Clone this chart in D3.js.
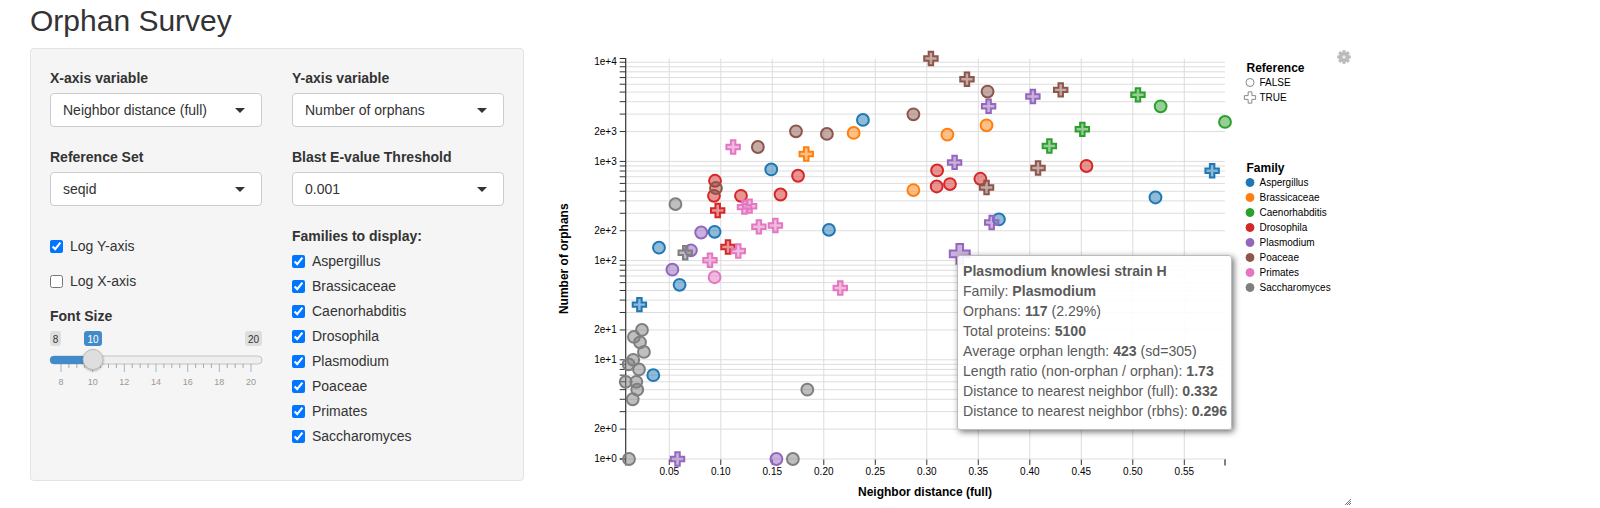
<!DOCTYPE html>
<html>
<head>
<meta charset="utf-8">
<script src="https://cdn.jsdelivr.net/npm/d3@7"></script>
<style>
html, body { margin: 0; padding: 0; background: #fff; overflow: hidden; }
body { width: 1600px; height: 508px; position: relative; font-family: "Liberation Sans", sans-serif; font-size: 14px; color: #333; }
.abs { position: absolute; white-space: nowrap; }
h2 { position: absolute; left: 30px; top: 1px; margin: 0; font-size: 30px; line-height: 40px; font-weight: 400; color: #333; }
.well { position: absolute; left: 30px; top: 48px; width: 492px; height: 431px; background: #f5f5f5; border: 1px solid #e3e3e3; border-radius: 4px; }
.lab { font-weight: 700; line-height: 16px; }
.sel { position: absolute; width: 210px; height: 32px; background: #fff; border: 1px solid #ccc; border-radius: 4px; line-height: 32px; text-indent: 12px; }
.sel:after { content: ""; position: absolute; left: 184px; top: 14px; border: 5px solid transparent; border-top-color: #333; border-bottom: 0; }
input[type=checkbox] { position: absolute; margin: 0; width: 13px; height: 13px; }
.tip { position: absolute; left: 957px; top: 254.5px; width: 263px; height: 162px; padding: 5.5px 5px 6px 5px; background: rgba(255,255,255,0.9); border: 1px solid #bbb; border-radius: 3px; box-shadow: 2px 2px 6px rgba(0,0,0,0.55); color: #5a5a5a; font-size: 14.1px; line-height: 20px; white-space: nowrap; }
svg { position: absolute; left: 0; top: 0; }
svg text { font-family: "Liberation Sans", sans-serif; }
</style>
</head>
<body>
<script>
var familyNames = ['Aspergillus', 'Brassicaceae', 'Caenorhabditis', 'Drosophila', 'Plasmodium', 'Poaceae', 'Primates', 'Saccharomyces'];
var familyColors = ['#1f77b4', '#ff7f0e', '#2ca02c', '#d62728', '#9467bd', '#8c564b', '#e377c2', '#7f7f7f'];
var referenceNames = ['FALSE', 'TRUE'];

// [distance, orphans], one array per family, split on reference
var aspergillusFalse = [[0.238, 2620], [0.149, 830], [0.205, 204], [0.094, 195], [0.040, 135], [0.060, 57], [0.0345, 7], [0.370, 260], [0.522, 433]];
var aspergillusTrue = [[0.577, 806], [0.021, 36]];
var brassicaceaeFalse = [[0.229, 1936], [0.320, 1860], [0.358, 2310], [0.287, 514]];
var brassicaceaeTrue = [[0.183, 1188]];
var caenorhabditisFalse = [[0.527, 3594], [0.5895, 2500]];
var caenorhabditisTrue = [[0.505, 4688], [0.451, 2105], [0.419, 1431]];
var drosophilaFalse = [[0.0944, 638], [0.0934, 450], [0.1196, 450], [0.158, 464], [0.175, 717], [0.310, 811], [0.3096, 559], [0.3225, 591], [0.352, 668], [0.455, 899]];
var drosophilaTrue = [[0.097, 320], [0.107, 137]];
var plasmodiumFalse = [[0.081, 192], [0.071, 127], [0.053, 81], [0.154, 1]];
var plasmodiumTrue = [[0.403, 4505], [0.360, 3594], [0.327, 977], [0.363, 242], [0.058, 1]];
var poaceaeFalse = [[0.173, 2010], [0.203, 1892], [0.136, 1397], [0.0953, 539], [0.359, 5058], [0.287, 2985]];
var poaceaeTrue = [[0.304, 10900], [0.339, 6730], [0.430, 5263], [0.408, 857], [0.358, 546]];
var primatesFalse = [[0.094, 68]];
var primatesTrue = [[0.112, 1397], [0.123, 346], [0.128, 354], [0.137, 219], [0.153, 226], [0.117, 125], [0.0895, 101], [0.216, 53]];
var saccharomycesFalse = [[0.056, 371], [0.0235, 20], [0.0157, 17], [0.0216, 15], [0.0254, 12], [0.015, 10], [0.0106, 9], [0.0206, 8], [0.0077, 6], [0.018, 6], [0.0189, 5], [0.0145, 4], [0.184, 5], [0.0109, 1], [0.170, 1]];
var saccharomycesTrue = [[0.0655, 120]];
var selectedPoint = [0.332, 117];

var falseGroups = [aspergillusFalse, brassicaceaeFalse, caenorhabditisFalse, drosophilaFalse, plasmodiumFalse, poaceaeFalse, primatesFalse, saccharomycesFalse];
var trueGroups = [aspergillusTrue, brassicaceaeTrue, caenorhabditisTrue, drosophilaTrue, plasmodiumTrue, poaceaeTrue, primatesTrue, saccharomycesTrue];

var xTicks = [0.05, 0.10, 0.15, 0.20, 0.25, 0.30, 0.35, 0.40, 0.45, 0.50, 0.55];
var yMultiples = [1, 2, 3, 4, 5, 6, 7, 8, 9];
var yDecades = [1, 10, 100, 1000];
var sliderMajor = [8, 10, 12, 14, 16, 18, 20];
var sliderMinor = [8.5, 9, 9.5, 10.5, 11, 11.5, 12.5, 13, 13.5, 14.5, 15, 15.5, 16.5, 17, 17.5, 18.5, 19, 19.5];
var tipLines = [
    ['', '<b>Plasmodium knowlesi strain H</b>'],
    ['Family: ', '<b>Plasmodium</b>'],
    ['Orphans: ', '<b>117</b> (2.29%)'],
    ['Total proteins: ', '<b>5100</b>'],
    ['Average orphan length: ', '<b>423</b> (sd=305)'],
    ['Length ratio (non-orphan / orphan): ', '<b>1.73</b>'],
    ['Distance to nearest neighbor (full): ', '<b>0.332</b>'],
    ['Distance to nearest neighbor (rbhs): ', '<b>0.296</b>']
];

var body = d3.select('body');

// sidebar
body.append('h2').text('Orphan Survey');
body.append('div').attr('class', 'well');

var addLabel = function(text, x, y) {
    body.append('div').attr('class', 'abs lab')
        .style('left', x + 'px').style('top', (y - 8) + 'px').text(text);
};
var addSelect = function(text, x, y) {
    body.append('div').attr('class', 'sel')
        .style('left', x + 'px').style('top', y + 'px').text(text);
};
var addCheck = function(text, boxX, textX, y) {
    body.append('input').attr('type', 'checkbox').property('checked', text !== 'Log X-axis')
        .style('left', boxX + 'px').style('top', (y - 6.5) + 'px');
    body.append('div').attr('class', 'abs')
        .style('left', textX + 'px').style('top', (y - 8) + 'px').style('line-height', '16px').text(text);
};

addLabel('X-axis variable', 50, 78);
addLabel('Y-axis variable', 292, 78);
addLabel('Reference Set', 50, 157);
addLabel('Blast E-value Threshold', 292, 157);
addLabel('Font Size', 50, 316);
addLabel('Families to display:', 292, 236);
addSelect('Neighbor distance (full)', 50, 93);
addSelect('Number of orphans', 292, 93);
addSelect('seqid', 50, 171.5);
addSelect('0.001', 292, 171.5);
addCheck('Log Y-axis', 50, 70, 246);
addCheck('Log X-axis', 50, 70, 281);
familyNames.forEach(function(name, i) {
    addCheck(name, 292, 312, 261 + i * 25);
});

// chart
var svg = body.append('svg').attr('width', 1600).attr('height', 508);

var plotLeft = 625.7, plotRight = 1225, plotTop = 58.5, plotBottom = 459;
var x = d3.scaleLinear().domain([0.0077, 0.5895]).range([plotLeft, plotRight]);
var y = d3.scaleLog().domain([1, 10900]).range([plotBottom, plotTop]);
var color = d3.scaleOrdinal().domain(familyNames).range(familyColors);

var yTicks = [];
yDecades.forEach(function(decade) {
    yMultiples.forEach(function(m) {
        yTicks.push(m * decade);
    });
});
yTicks.push(10000);

var yFormat = function(v) {
    var text = d3.format('.0e')(v);
    return text.charAt(0) === '1' || text.charAt(0) === '2' ? text : '';
};

var xAxis = svg.append('g')
    .attr('transform', 'translate(0,' + plotBottom + ')')
    .call(d3.axisBottom(x).tickValues(xTicks).tickFormat(d3.format('.2f')).tickSize(6).tickPadding(3).offset(0));
xAxis.select('.domain').remove();
xAxis.selectAll('text').attr('font-size', 10).attr('font-family', null).attr('fill', '#000');
x.domain().forEach(function(d) {
    svg.append('line').attr('x1', x(d)).attr('x2', x(d)).attr('y1', plotBottom).attr('y2', plotBottom + 6.5)
        .attr('stroke', '#000');
});

var yGrid = svg.append('g')
    .attr('transform', 'translate(' + plotLeft + ',0)')
    .call(d3.axisLeft(y).tickValues(yTicks).tickFormat('').tickSize(plotLeft - plotRight).tickSizeOuter(0).offset(0));
var xGrid = svg.append('g')
    .attr('transform', 'translate(0,' + plotBottom + ')')
    .call(d3.axisBottom(x).tickValues(xTicks).tickFormat('').tickSize(plotTop - plotBottom).tickSizeOuter(0).offset(0));
[yGrid, xGrid].forEach(function(grid) {
    grid.select('.domain').remove();
    grid.selectAll('line').attr('stroke', '#ddd');
});

var yAxis = svg.append('g')
    .attr('transform', 'translate(' + plotLeft + ',0)')
    .call(d3.axisLeft(y).tickValues(yTicks).tickFormat(yFormat).tickSize(6).tickPadding(3).offset(0));
yAxis.selectAll('text').attr('font-size', 10).attr('font-family', null).attr('fill', '#000');
yAxis.select('.domain').attr('stroke-width', 1.2);

svg.append('text')
    .attr('x', 925).attr('y', 496)
    .attr('text-anchor', 'middle').attr('font-size', 12).attr('font-weight', 700)
    .text('Neighbor distance (full)');
svg.append('text')
    .attr('transform', 'translate(568,' + (plotTop + plotBottom) / 2 + ') rotate(-90)')
    .attr('text-anchor', 'middle').attr('font-size', 12).attr('font-weight', 700)
    .text('Number of orphans');

var circlePath = d3.symbol().type(d3.symbolCircle).size(110);
var crossPath = d3.symbol().type(d3.symbolCross).size(100);
var bigCrossPath = d3.symbol().type(d3.symbolCross).size(220);

var drawPoints = function(points, family, path) {
    svg.append('g').selectAll('path').data(points).enter().append('path')
        .attr('d', path)
        .attr('transform', function(d) {
            return 'translate(' + x(d[0]) + ',' + y(d[1]) + ')';
        })
        .attr('fill', color(family)).attr('fill-opacity', 0.5)
        .attr('stroke', color(family)).attr('stroke-width', 2);
};

familyNames.forEach(function(name, i) {
    drawPoints(falseGroups[i], name, circlePath);
    drawPoints(trueGroups[i], name, crossPath);
});
drawPoints([selectedPoint], 'Plasmodium', bigCrossPath);

// legends
var legendX = 1246.5;
svg.append('text').attr('x', legendX).attr('y', 72).attr('font-size', 12).attr('font-weight', 700).text('Reference');
referenceNames.forEach(function(name, i) {
    var itemY = 82.5 + i * 15;
    svg.append('path')
        .attr('d', i === 0 ? d3.symbol().type(d3.symbolCircle).size(50) : d3.symbol().type(d3.symbolCross).size(70))
        .attr('transform', 'translate(1250,' + itemY + ')')
        .attr('fill', 'none').attr('stroke', '#888').attr('stroke-width', 1);
    svg.append('text').attr('x', 1259.5).attr('y', itemY + 3.5).attr('font-size', 10).text(name);
});

svg.append('text').attr('x', legendX).attr('y', 172).attr('font-size', 12).attr('font-weight', 700).text('Family');
familyNames.forEach(function(name, i) {
    var itemY = 182.5 + i * 15;
    svg.append('path')
        .attr('d', d3.symbol().type(d3.symbolCircle).size(50))
        .attr('transform', 'translate(1250,' + itemY + ')')
        .attr('fill', color(name)).attr('stroke', color(name));
    svg.append('text').attr('x', 1259.5).attr('y', itemY + 3.5).attr('font-size', 10).text(name);
});

// gear and resize grip
var gear = svg.append('g').attr('transform', 'translate(1344,57)');
d3.range(4).forEach(function(i) {
    gear.append('rect').attr('x', -1.6).attr('y', -6.8).attr('width', 3.2).attr('height', 13.6)
        .attr('fill', '#bbb').attr('transform', 'rotate(' + i * 45 + ')');
});
gear.append('circle').attr('r', 5).attr('fill', '#bbb');
gear.append('circle').attr('r', 1.8).attr('fill', '#e8e8e8');

[2, 4, 6].forEach(function(d) {
    svg.append('line').attr('x1', 1351).attr('y1', 499 + 6 - d).attr('x2', 1351 - d).attr('y2', 505)
        .attr('stroke', '#555').attr('stroke-width', 0.8);
});

// slider, drawn over the well
var slider = svg.append('g');
var sliderX = d3.scaleLinear().domain([8, 20]).range([61, 251]);
slider.append('rect').attr('x', 50).attr('y', 356).attr('width', 212).attr('height', 8).attr('rx', 4)
    .attr('fill', '#eee').attr('stroke', '#c4c4c4');
slider.append('rect').attr('x', 50).attr('y', 356).attr('width', sliderX(10) - 50).attr('height', 8).attr('rx', 4)
    .attr('fill', '#428bca');
slider.selectAll('.major').data(sliderMajor).enter().append('line')
    .attr('x1', sliderX).attr('x2', sliderX).attr('y1', 364).attr('y2', 372)
    .attr('stroke', '#428bca').attr('stroke-opacity', 0.55);
slider.selectAll('.minor').data(sliderMinor).enter().append('line')
    .attr('x1', sliderX).attr('x2', sliderX).attr('y1', 364).attr('y2', 368)
    .attr('stroke', '#777').attr('stroke-opacity', 0.6);
slider.selectAll('text').data(sliderMajor).enter().append('text')
    .attr('x', sliderX).attr('y', 385).attr('text-anchor', 'middle').attr('font-size', 9)
    .attr('fill', '#999').text(function(d) { return d; });
slider.append('circle').attr('cx', 93).attr('cy', 359.5).attr('r', 10)
    .attr('fill', '#dedede').attr('stroke', '#bbb').style('filter', 'drop-shadow(0 1px 1px rgba(0,0,0,0.3))');

var sliderBadge = function(text, left, right, fill, textFill) {
    slider.append('rect').attr('x', left).attr('y', 331).attr('width', right - left).attr('height', 15).attr('rx', 3)
        .attr('fill', fill);
    slider.append('text').attr('x', (left + right) / 2).attr('y', 342.5).attr('text-anchor', 'middle')
        .attr('font-size', 10).attr('fill', textFill).text(text);
};
sliderBadge('8', 50, 61, '#dedede', '#333');
sliderBadge('10', 84, 102, '#428bca', '#fff');
sliderBadge('20', 245, 262, '#dedede', '#333');

// tooltip sits on top of the points
var tip = body.append('div').attr('class', 'tip');
tip.selectAll('div').data(tipLines).enter().append('div')
    .html(function(d) { return d[0] + d[1]; });
</script>
</body>
</html>
